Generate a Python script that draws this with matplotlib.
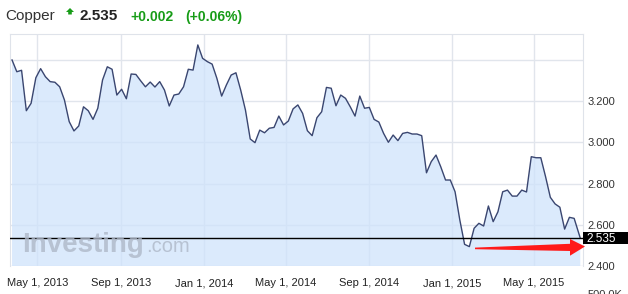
import numpy as np
import pandas as pd
import matplotlib
matplotlib.use('Agg')
import matplotlib.pyplot as plt
import matplotlib.transforms as mtransforms
from matplotlib.patches import Polygon, Rectangle

plt.rcParams['font.family'] = ['Liberation Sans', 'DejaVu Sans']

# weekly copper closes (last one is the current partial week)
prices = [3.399, 3.342, 3.349, 3.153, 3.189, 3.313, 3.357, 3.318, 3.294, 3.291,
          3.269, 3.205, 3.100, 3.055, 3.079, 3.172, 3.153, 3.111, 3.165, 3.302,
          3.366, 3.354, 3.229, 3.257, 3.211, 3.331, 3.329, 3.298, 3.269, 3.292,
          3.268, 3.294, 3.253, 3.176, 3.229, 3.234, 3.269, 3.354, 3.350, 3.472,
          3.407, 3.391, 3.379, 3.310, 3.224, 3.278, 3.326, 3.337, 3.253, 3.156,
          3.016, 2.998, 3.059, 3.046, 3.068, 3.072, 3.127, 3.084, 3.103, 3.162,
          3.181, 3.140, 3.056, 3.032, 3.119, 3.148, 3.266, 3.262, 3.177, 3.229,
          3.213, 3.172, 3.127, 3.224, 3.165, 3.169, 3.111, 3.098, 3.043, 3.000,
          3.035, 3.008, 3.043, 3.048, 3.040, 3.040, 3.032, 2.852, 2.906, 2.938,
          2.881, 2.817, 2.817, 2.760, 2.623, 2.505, 2.494, 2.583, 2.607, 2.594,
          2.691, 2.615, 2.663, 2.760, 2.768, 2.739, 2.739, 2.768, 2.759, 2.930,
          2.925, 2.925, 2.833, 2.733, 2.701, 2.685, 2.579, 2.636, 2.631, 2.535]
dates = list(pd.date_range('2013-03-25', periods=len(prices) - 1, freq='7D')) + [pd.Timestamp('2015-07-08')]

last = 2.535
change = '+0.002'
change_pct = '(+0.06%)'

xtick_dates = ['2013-05-01', '2013-09-01', '2014-01-01', '2014-05-01',
               '2014-09-01', '2015-01-01', '2015-05-01']
xtick_labels = ['May 1, 2013', 'Sep 1, 2013', 'Jan 1, 2014', 'May 1, 2014',
                'Sep 1, 2014', 'Jan 1, 2015', 'May 1, 2015']
ygrid = [2.4, 2.6, 2.8, 3.0, 3.2, 3.4]
ylabels = ['2.400', '2.600', '2.800', '3.000', '3.200', '']

W, H = 628, 294
fig = plt.figure(figsize=(W / 100, H / 100), dpi=100)
ax = fig.add_axes([10 / W, 28 / H, 573 / W, 232 / H])

line_col = '#3a4670'
grid_col = '#e1e5ec'
green = '#179c17'

ax.fill_between(dates, prices, 0, color='#cfe3fb', alpha=0.75, lw=0, zorder=2)
ax.plot(dates, prices, color=line_col, lw=1.0, zorder=3)
ax.axhline(last, color='black', lw=1.0, zorder=4)

ax.set_xlim(pd.Timestamp('2013-03-22'), pd.Timestamp('2015-07-12'))
ax.set_ylim(2.4, 3.525)

ax.set_xticks([pd.Timestamp(d) for d in xtick_dates])
ax.set_xticklabels(xtick_labels, fontsize=8, color='#222222')
ax.set_yticks(ygrid)
ax.set_yticklabels(ylabels, fontsize=8, color='#333333')
ax.yaxis.tick_right()
ax.tick_params(axis='both', length=0)
ax.tick_params(axis='y', pad=3)
ax.tick_params(axis='x', pad=9)
ax.grid(True, color=grid_col, lw=1.0, zorder=1)
ax.set_axisbelow(True)
for side in ['left', 'top', 'right']:
    ax.spines[side].set_color('#dfe3ea')
ax.spines['bottom'].set_visible(False)

# price label box on the right axis
trans = mtransforms.blended_transform_factory(ax.transAxes, ax.transData)
ax.add_patch(Rectangle((1.0, last - 0.028), 45 / 573, 0.056, transform=trans,
                       facecolor='black', edgecolor='none', clip_on=False, zorder=5))
ax.text(1.0 + 3 / 573, last - 0.002, '%.3f' % last, transform=trans, color='white',
        fontsize=8.5, va='center', ha='left', zorder=6, clip_on=False)

# watermark
fig.text(22 / W, 1 - 245 / H, 'Investing', fontsize=20, fontweight='bold',
         color='#aeb8c8', alpha=0.8, va='center', ha='left')
fig.text(146 / W, 1 - 247 / H, '.com', fontsize=14.5, color='#aeb8c8', alpha=0.8,
         va='center', ha='left')

# header
fig.text(5 / W, 1 - 16 / H, 'Copper', fontsize=11, color='#333333', va='center')
up_px = [(70, 8), (74, 12), (71.8, 12), (71.8, 14.5), (68.2, 14.5), (68.2, 12), (66, 12)]
fig.patches.append(Polygon([(x / W, 1 - y / H) for x, y in up_px], closed=True,
                           transform=fig.transFigure, facecolor=green, edgecolor='none'))
fig.text(80 / W, 1 - 16 / H, '%.3f' % last, fontsize=11, fontweight='bold',
         color='#222222', va='center')
fig.text(130 / W, 1 - 17 / H, change, fontsize=10, fontweight='bold', color=green, va='center')
fig.text(185 / W, 1 - 17 / H, change_pct, fontsize=10, fontweight='bold', color=green, va='center')

# cut-off volume axis label
fig.text(588 / W, 1 - 290 / H, '500.0K', fontsize=8, color='#333333', va='top')

# red annotation arrow
arrow_px = [(475, 247.6), (570, 243.8), (570, 239), (585, 246.5),
            (570, 255.7), (570, 251), (475, 249.2)]
fig.patches.append(Polygon([(x / W, 1 - y / H) for x, y in arrow_px], closed=True,
                           transform=fig.transFigure, facecolor='#ff1a1a',
                           edgecolor='none', zorder=10))

fig.savefig('out.png', dpi=100)
